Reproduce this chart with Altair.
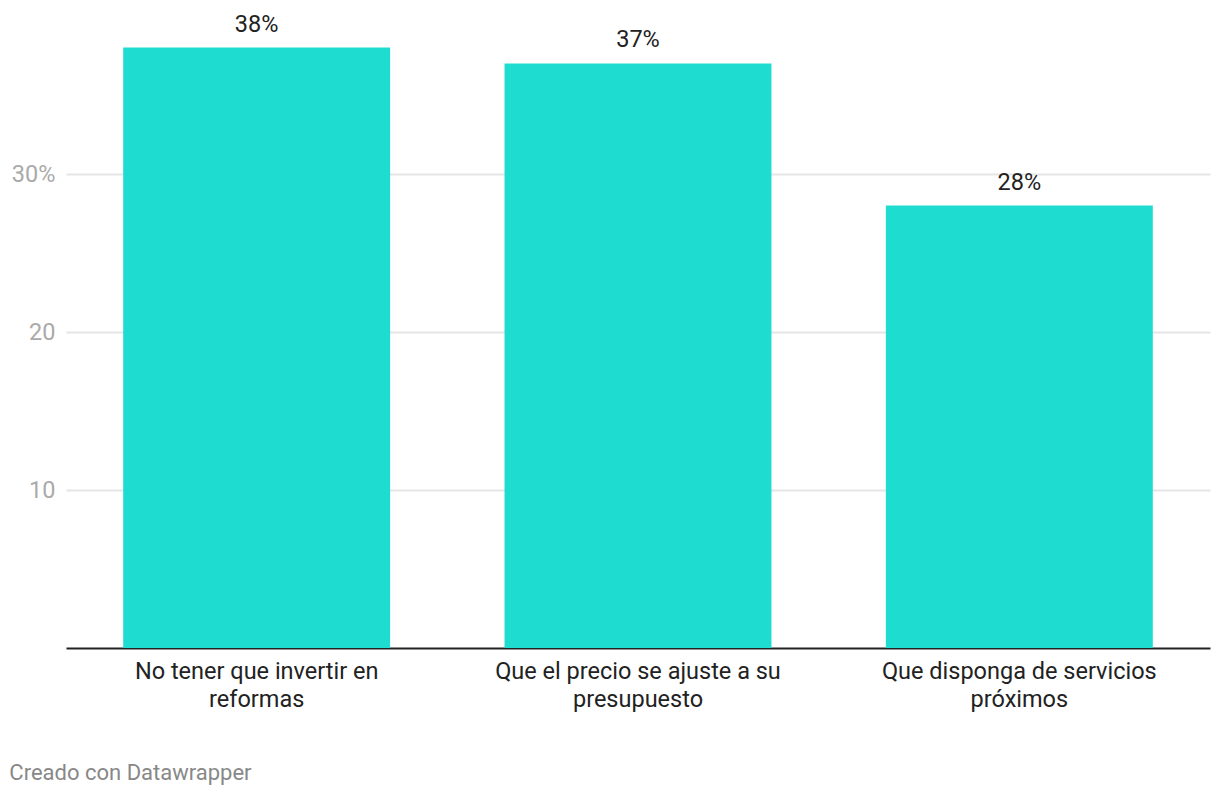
import altair as alt
import pandas as pd

categories = [
    "No tener que invertir en reformas",
    "Que el precio se ajuste a su presupuesto",
    "Que disponga de servicios próximos",
]
label_lines = [
    ["No tener que invertir en", "reformas"],
    ["Que el precio se ajuste a su", "presupuesto"],
    ["Que disponga de servicios", "próximos"],
]
values = [38, 37, 28]
value_labels = ["38%", "37%", "28%"]
y_ticks = [10, 20, 30]
y_tick_labels = ["10", "20", "30%"]

df = pd.DataFrame({"cat": categories, "val": values, "lbl": value_labels})

# build label expressions
x_expr = "''"
for c, lines in zip(reversed(categories), reversed(label_lines)):
    arr = "[" + ",".join("'" + l + "'" for l in lines) + "]"
    x_expr = f"datum.label == '{c}' ? {arr} : ({x_expr})"
y_expr = "datum.label"
for t, l in zip(y_ticks, y_tick_labels):
    y_expr = f"datum.value == {t} ? '{l}' : ({y_expr})"

FONT = "Roboto"

x_enc = alt.X(
    "cat:N",
    sort=categories,
    scale=alt.Scale(paddingInner=0.3, paddingOuter=0.15),
    axis=alt.Axis(
        title=None,
        labelAngle=0,
        labelExpr=x_expr,
        labelFont=FONT,
        labelFontSize=23.5,
        labelColor="#222222",
        labelLineHeight=28,
        labelPadding=11,
        labelBaseline="top",
        labelLimit=400,
        ticks=False,
        domainColor="#222222",
        domainWidth=2,
        grid=False,
    ),
)
y_enc = alt.Y(
    "val:Q",
    scale=alt.Scale(domain=[0, 40], nice=False),
    axis=alt.Axis(
        title=None,
        values=y_ticks,
        labelExpr=y_expr,
        labelFont=FONT,
        labelFontSize=23.5,
        labelColor="#aaaaaa",
        labelPadding=11,
        ticks=False,
        domain=False,
        gridColor="#e5e5e5",
        gridWidth=2,
    ),
)

bars = alt.Chart(df).mark_bar(color="#1fdcd0").encode(x=x_enc, y=y_enc)
text = alt.Chart(df).mark_text(
    dy=-16, baseline="alphabetic", font=FONT, fontSize=23.5, color="#222222"
).encode(x=alt.X("cat:N", sort=categories), y="val:Q", text="lbl:N")

chart = (
    alt.layer(bars, text)
    .properties(
        width=1144,
        height=632,
        autosize=alt.AutoSizeParams(type="none"),
        padding={"left": 58, "top": 8, "right": 2, "bottom": 140},
        title=alt.TitleParams(
            "Creado con Datawrapper",
            orient="bottom",
            anchor="start",
            dx=-2,
            offset=52,
            font=FONT,
            fontSize=22,
            fontWeight="normal",
            color="#888888",
        ),
    )
    .configure_view(stroke=None)
)

chart.save("out.html", embed_options={"renderer": "svg", "actions": False})
